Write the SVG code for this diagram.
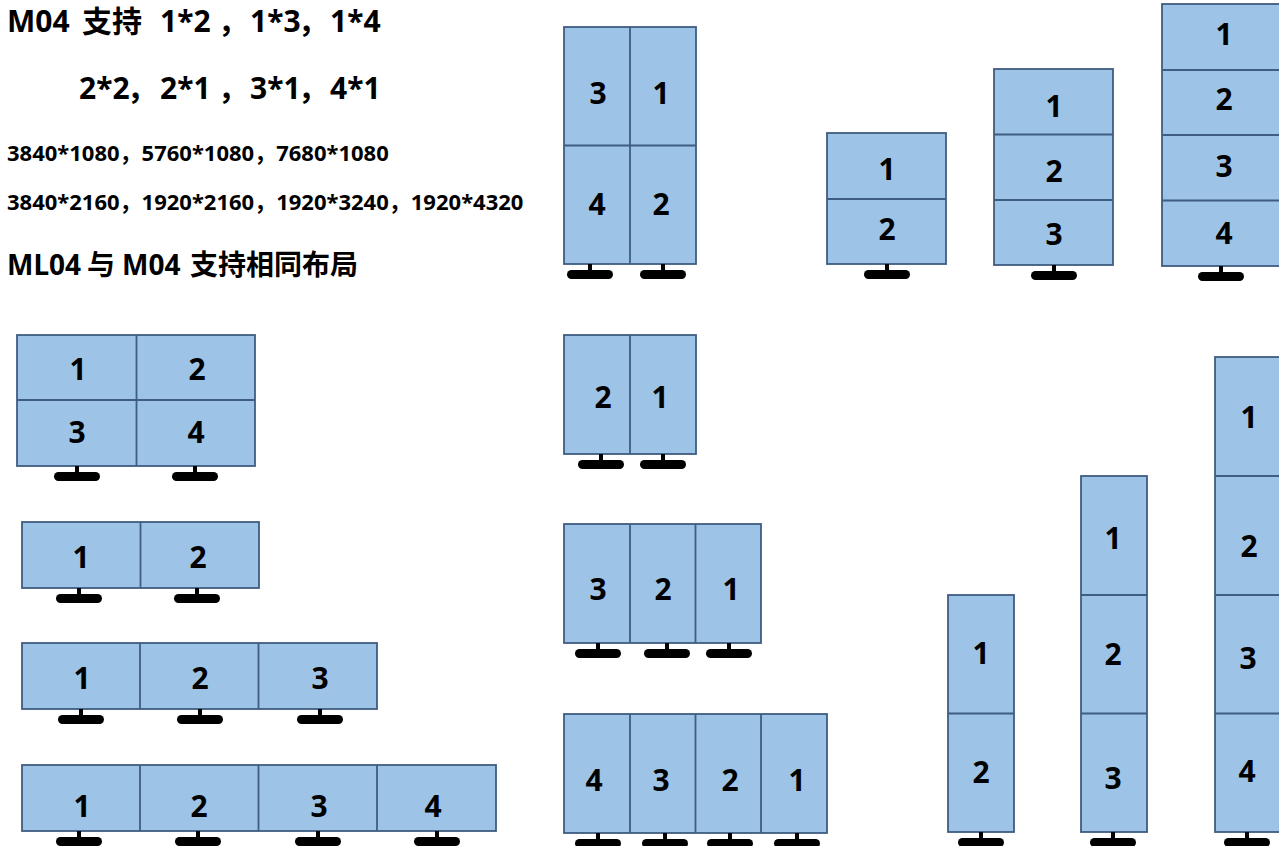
<svg xmlns="http://www.w3.org/2000/svg" xmlns:xlink="http://www.w3.org/1999/xlink" width="1279" height="846" viewBox="0 0 1279 846">
<style>
.scr{fill:#9DC3E6;stroke:#3F5D80;stroke-width:1.8}
.div{stroke:#3F5D80;stroke-width:1.8;fill:none}
.num{font-family:"Noto Sans","Open Sans","Noto Sans CJK SC",sans-serif;font-weight:bold;font-size:30px;fill:#000;text-anchor:middle}
.h1{font-family:"Noto Sans","Noto Sans CJK SC",sans-serif;font-weight:bold;font-size:30px;fill:#000}
.h2{font-family:"Noto Sans","Noto Sans CJK SC",sans-serif;font-weight:bold;font-size:22px;fill:#000}
.h3{font-family:"Noto Sans","Noto Sans CJK SC",sans-serif;font-weight:bold;font-size:28px;fill:#000}
</style>
<defs>
<g id="stand"><rect x="-2" y="0" width="4" height="8" fill="#000"/><rect x="-23" y="6" width="46" height="9" rx="4.5" fill="#000"/></g>
</defs>
<rect width="1279" height="846" fill="#fff"/>

<g id="heading">
<text class="h1" y="32"><tspan x="7">M04</tspan><tspan x="82">支持</tspan><tspan x="160">1*2</tspan><tspan x="218">，</tspan><tspan x="250">1*3</tspan><tspan x="298">，</tspan><tspan x="330">1*4</tspan></text>
<text class="h1" y="99"><tspan x="79">2*2</tspan><tspan x="127">，</tspan><tspan x="160">2*1</tspan><tspan x="218">，</tspan><tspan x="250">3*1</tspan><tspan x="298">，</tspan><tspan x="330">4*1</tspan></text>
<text class="h2" x="7" y="161">3840*1080，5760*1080，7680*1080</text>
<text class="h2" x="7" y="210">3840*2160，1920*2160，1920*3240，1920*4320</text>
<text class="h3" y="275"><tspan x="7">ML04</tspan><tspan x="87">与</tspan><tspan x="122">M04</tspan><tspan x="190">支持相同布局</tspan></text>
</g>

<g id="wall-2x2-portrait">
<rect class="scr" x="564" y="27" width="132" height="237"/>
<path class="div" d="M630 27V264M564 145.5H696"/>
<text class="num" x="598" y="104">3</text><text class="num" x="661" y="104">1</text>
<text class="num" x="597" y="215">4</text><text class="num" x="661" y="215">2</text>
<use xlink:href="#stand" x="590" y="264"/><use xlink:href="#stand" x="663" y="264"/>
</g>

<g id="wall-1x2-landscape">
<rect class="scr" x="827" y="133" width="119" height="131"/>
<path class="div" d="M827 199H946"/>
<text class="num" x="887" y="180">1</text><text class="num" x="887" y="240">2</text>
<use xlink:href="#stand" x="887" y="264"/>
</g>

<g id="wall-1x3-landscape">
<rect class="scr" x="994" y="69" width="119" height="196"/>
<path class="div" d="M994 134.5H1113M994 200H1113"/>
<text class="num" x="1054" y="117">1</text><text class="num" x="1054" y="182">2</text><text class="num" x="1054" y="245">3</text>
<use xlink:href="#stand" x="1054" y="265"/>
</g>

<g id="wall-1x4-landscape">
<rect class="scr" x="1162" y="4" width="119" height="262"/>
<path class="div" d="M1162 70H1281M1162 135H1281M1162 200.5H1281"/>
<text class="num" x="1224" y="45">1</text><text class="num" x="1224" y="110">2</text><text class="num" x="1224" y="177">3</text><text class="num" x="1224" y="244">4</text>
<use xlink:href="#stand" x="1221" y="266"/>
</g>

<g id="wall-2x2-landscape">
<rect class="scr" x="17" y="335" width="238" height="131"/>
<path class="div" d="M136.5 335V466M17 400H255"/>
<text class="num" x="78" y="380">1</text><text class="num" x="197" y="380">2</text>
<text class="num" x="77" y="443">3</text><text class="num" x="196" y="443">4</text>
<use xlink:href="#stand" x="77" y="466"/><use xlink:href="#stand" x="195" y="466"/>
</g>

<g id="row-2-landscape">
<rect class="scr" x="22" y="522" width="237" height="66"/>
<path class="div" d="M140.5 522V588"/>
<text class="num" x="81" y="568">1</text><text class="num" x="198" y="568">2</text>
<use xlink:href="#stand" x="79" y="588"/><use xlink:href="#stand" x="197" y="588"/>
</g>

<g id="row-3-landscape">
<rect class="scr" x="22" y="643" width="355" height="66"/>
<path class="div" d="M140 643V709M258.5 643V709"/>
<text class="num" x="82" y="689">1</text><text class="num" x="200" y="689">2</text><text class="num" x="320" y="689">3</text>
<use xlink:href="#stand" x="81" y="709"/><use xlink:href="#stand" x="200" y="709"/><use xlink:href="#stand" x="320" y="709"/>
</g>

<g id="row-4-landscape">
<rect class="scr" x="22" y="765" width="474" height="66"/>
<path class="div" d="M140 765V831M258.5 765V831M377 765V831"/>
<text class="num" x="82" y="817">1</text><text class="num" x="199" y="817">2</text><text class="num" x="319" y="817">3</text><text class="num" x="433" y="817">4</text>
<use xlink:href="#stand" x="79" y="831"/><use xlink:href="#stand" x="198" y="831"/><use xlink:href="#stand" x="318" y="831"/><use xlink:href="#stand" x="437" y="831"/>
</g>

<g id="row-2-portrait">
<rect class="scr" x="564" y="335" width="132" height="119"/>
<path class="div" d="M630 335V454"/>
<text class="num" x="603" y="408">2</text><text class="num" x="660" y="408">1</text>
<use xlink:href="#stand" x="601" y="454"/><use xlink:href="#stand" x="663" y="454"/>
</g>

<g id="row-3-portrait">
<rect class="scr" x="564" y="524" width="197" height="119"/>
<path class="div" d="M630 524V643M695.5 524V643"/>
<text class="num" x="598" y="600">3</text><text class="num" x="663" y="600">2</text><text class="num" x="731" y="600">1</text>
<use xlink:href="#stand" x="598" y="643"/><use xlink:href="#stand" x="667" y="643"/><use xlink:href="#stand" x="729" y="643"/>
</g>

<g id="row-4-portrait">
<rect class="scr" x="564" y="714" width="263" height="119"/>
<path class="div" d="M630 714V833M695.5 714V833M761 714V833"/>
<text class="num" x="594" y="791">4</text><text class="num" x="661" y="791">3</text><text class="num" x="730" y="791">2</text><text class="num" x="797" y="791">1</text>
<use xlink:href="#stand" x="598" y="833"/><use xlink:href="#stand" x="665" y="833"/><use xlink:href="#stand" x="730" y="833"/><use xlink:href="#stand" x="797" y="833"/>
</g>

<g id="column-2-portrait">
<rect class="scr" x="948" y="595" width="66" height="237"/>
<path class="div" d="M948 713.5H1014"/>
<text class="num" x="981" y="664">1</text><text class="num" x="981" y="783">2</text>
<use xlink:href="#stand" x="981" y="832"/>
</g>

<g id="column-3-portrait">
<rect class="scr" x="1081" y="476" width="66" height="356"/>
<path class="div" d="M1081 595H1147M1081 713.5H1147"/>
<text class="num" x="1113" y="549">1</text><text class="num" x="1113" y="665">2</text><text class="num" x="1113" y="789">3</text>
<use xlink:href="#stand" x="1113" y="832"/>
</g>

<g id="column-4-portrait">
<rect class="scr" x="1215" y="357" width="66" height="475"/>
<path class="div" d="M1215 476H1281M1215 595H1281M1215 713.5H1281"/>
<text class="num" x="1249" y="428">1</text><text class="num" x="1249" y="557">2</text><text class="num" x="1248" y="669">3</text><text class="num" x="1247" y="782">4</text>
<use xlink:href="#stand" x="1247" y="832"/>
</g>

<g id="connectors"/>
</svg>
